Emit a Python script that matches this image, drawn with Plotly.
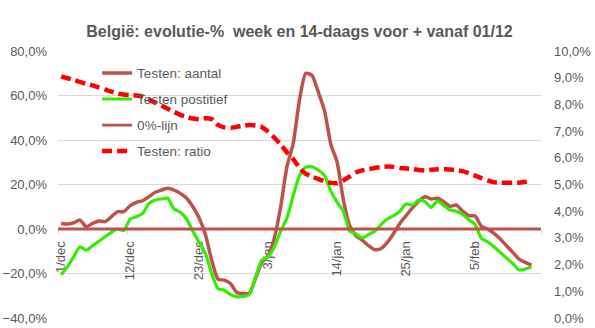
import plotly.graph_objects as go

# Day index 0 = 1 december, one point per day
days = list(range(76))

tick_days = [0, 11, 22, 33, 44, 55, 66]
tick_labels = ["1/dec", "12/dec", "23/dec", "3/jan", "14/jan", "25/jan", "5/feb"]

# Evolution in % (left axis)
testen_aantal = [
    2.6, 2.2, 2.8, 4.0, 1.0, 2.5, 3.6, 3.3, 5.5, 7.8,
    7.8, 10.5, 12.0, 12.7, 14.5, 16.5, 17.5, 18.3, 17.5, 16.0,
    13.8, 10.0, 4.9, -2.5, -14.0, -22.5, -23.0, -24.5, -28.5, -29.0,
    -28.9, -22.0, -15.0, -12.0, -4.0, 10.0, 28.0, 38.5, 58.0, 70.0,
    69.0, 61.5, 53.0, 38.0, 30.0, 13.0, 1.5, -3.0, -5.0, -7.5,
    -9.3, -8.8, -6.0, -2.0, 2.5, 6.0, 9.5, 12.5, 14.5, 13.5,
    13.8, 12.3, 10.2, 10.8, 8.0, 6.0, 5.8, 1.2, 0.0, -2.0,
    -4.5, -7.5, -10.5, -13.5, -15.0, -16.2,
]

testen_positief = [
    -20.5, -17.0, -12.5, -8.0, -9.5, -7.5, -5.5, -3.5, -1.5, 0.0,
    -0.7, 4.5, 5.5, 7.0, 11.5, 13.0, 13.5, 13.8, 9.0, 7.5,
    4.5, -1.0, -6.0, -11.0, -20.0, -26.8, -27.5, -29.5, -30.4, -30.3,
    -29.5, -21.5, -14.0, -12.5, -8.0, -1.0, 5.0, 15.0, 24.0, 27.8,
    28.0, 26.5, 24.0, 17.0, 12.0, 8.0, -1.0, -2.2, -4.0, -2.5,
    -1.0, 2.0, 4.5, 6.0, 8.0, 11.3, 10.8, 13.0, 12.3, 9.7,
    12.5, 10.5, 8.5, 8.0, 6.5, 4.2, 2.0, -4.2, -5.8, -8.0,
    -10.5, -13.0, -15.5, -18.4, -18.0, -17.0,
]

nul_lijn = [0.0] * len(days)

# Positivity ratio in % (right axis)
testen_ratio = [
    9.05, 8.98, 8.92, 8.84, 8.77, 8.71, 8.64, 8.56, 8.48, 8.40,
    8.37, 8.35, 8.33, 8.29, 8.18, 8.06, 7.95, 7.84, 7.72, 7.61,
    7.53, 7.47, 7.44, 7.48, 7.45, 7.23, 7.14, 7.12, 7.16, 7.20,
    7.23, 7.21, 7.15, 6.98, 6.75, 6.50, 6.20, 5.95, 5.62, 5.40,
    5.30, 5.20, 5.12, 5.06, 5.05, 5.15, 5.30, 5.45, 5.53, 5.58,
    5.62, 5.65, 5.67, 5.66, 5.62, 5.60, 5.58, 5.54, 5.52, 5.55,
    5.57, 5.58, 5.56, 5.54, 5.50, 5.42, 5.33, 5.24, 5.15, 5.09,
    5.07, 5.07, 5.07, 5.07, 5.10, 5.16,
]

BROWN = "#C0504D"
GREEN = "#33EE00"
RED = "#FF0000"
GRID = "#D9D9D9"
TEXT = "#595959"
FONT = "Liberation Sans, Arial, sans-serif"

fig = go.Figure()

fig.add_trace(go.Scatter(
    x=days, y=testen_aantal, name="Testen: aantal", mode="lines",
    line=dict(color=BROWN, width=3.5, shape="spline", smoothing=0.6),
    legendgroup="a",
))
fig.add_trace(go.Scatter(
    x=days, y=testen_positief, name="Testen postitief", mode="lines",
    line=dict(color=GREEN, width=3.2, shape="spline", smoothing=0.6),
    legendgroup="b",
))
fig.add_trace(go.Scatter(
    x=[-0.5, 76.5], y=[nul_lijn[0], nul_lijn[-1]], name="0%-lijn", mode="lines",
    line=dict(color=BROWN, width=2.8),
    legendgroup="c",
))
fig.add_trace(go.Scatter(
    x=days, y=testen_ratio, name="Testen: ratio", mode="lines", yaxis="y2",
    line=dict(color=RED, width=4.5, dash="10px,5px", shape="spline", smoothing=0.6),
    legendgroup="d",
))

fig.update_layout(
    width=595, height=328,
    margin=dict(l=58, r=54, t=51, b=10, autoexpand=False),
    paper_bgcolor="white", plot_bgcolor="white",
    separators=",.",
    font=dict(family=FONT, color=TEXT, size=13),
    title=dict(
        text="<b>België: evolutie-%\u00a0 week en 14-daags voor + vanaf 01/12</b>",
        x=0.5, xref="paper", xanchor="center", y=0.905, yanchor="middle",
        font=dict(family=FONT, size=16, color=TEXT),
    ),
    showlegend=True,
    legend=dict(
        x=0.081, y=0.975, xanchor="left", yanchor="top",
        bgcolor="rgba(0,0,0,0)", font=dict(size=13.5, color=TEXT),
        tracegroupgap=5.5, traceorder="grouped",
    ),
    xaxis=dict(
        range=[-0.5, 76.5], automargin=False,
        anchor="free", position=1 / 3, layer="below traces",
        tickmode="array", tickvals=tick_days, ticktext=tick_labels,
        tickangle=-90, ticks="", ticklabelstandoff=6,
        tickfont=dict(size=13, color=TEXT),
        showline=True, linecolor=GRID, linewidth=1,
        showgrid=False, zeroline=False,
        minor=dict(tickmode="linear", tick0=-0.5, dtick=11, ticks="outside",
                   ticklen=4, tickcolor=GRID, showgrid=False),
    ),
    yaxis=dict(
        range=[-40, 80], dtick=20, tickformat=".1f", ticksuffix="%",
        automargin=False,
        showgrid=True, gridcolor=GRID, gridwidth=1, zeroline=False,
        showline=False, ticks="", ticklabelstandoff=10,
        tickfont=dict(size=13, color=TEXT),
    ),
    yaxis2=dict(
        range=[0, 10], dtick=1, tickformat=".1f", ticksuffix="%",
        automargin=False,
        overlaying="y", side="right", showgrid=False, zeroline=False,
        showline=False, ticks="", ticklabelstandoff=12,
        tickfont=dict(size=13, color=TEXT),
    ),
)

fig.write_html("out.html")
